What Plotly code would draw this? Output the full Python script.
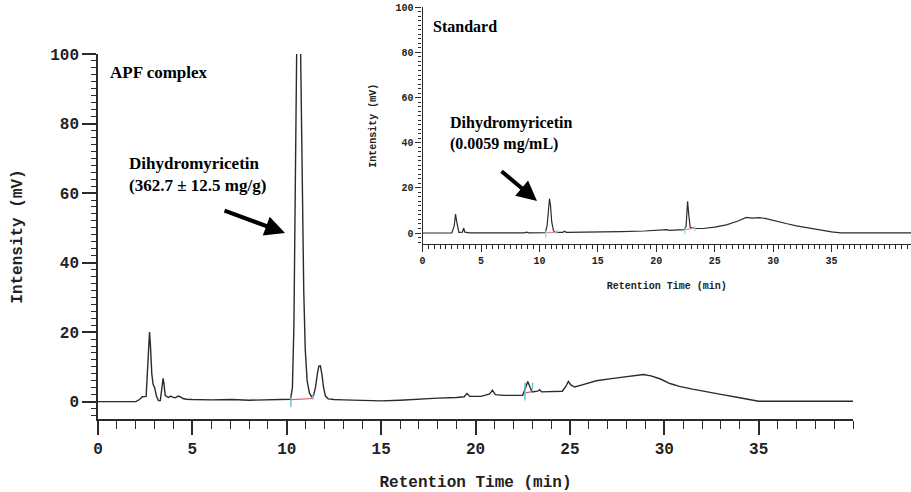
import plotly.graph_objects as go

# ---------------- data ----------------
# Main chromatogram: APF complex
apf_time = [0, 1.0, 2.0, 2.2, 2.35, 2.55, 2.62, 2.68, 2.73, 2.78, 2.85, 2.92, 3.0, 3.1, 3.2, 3.3,
            3.38, 3.45, 3.5, 3.56, 3.65, 3.75, 3.85, 3.95, 4.1, 4.25, 4.35, 4.5, 4.7, 5.0, 6.0,
            6.9, 7.0, 7.1, 8.0, 9.0, 10.0, 10.2, 10.3, 10.38, 10.45, 10.5, 10.55, 10.6, 10.65,
            10.7, 10.75, 10.82, 10.9, 10.98, 11.08, 11.2, 11.32, 11.42, 11.52, 11.62, 11.7,
            11.78, 11.86, 11.95, 12.05, 12.2, 12.5, 13.0, 14.0, 15.0, 16.0, 17.0, 18.0, 19.0,
            19.4, 19.55, 19.7, 20.3, 20.75, 20.9, 21.05, 21.5, 22.0, 22.5, 22.65, 22.77, 22.9,
            23.0, 23.3, 23.4, 23.5, 24.0, 24.6, 24.8, 24.92, 25.05, 25.25, 25.7, 26.4, 27.3,
            28.2, 28.9, 29.3, 29.8, 30.3, 30.8, 31.5, 32.3, 33.0, 34.0, 34.8, 35.0, 40.0]
apf_signal = [0, 0, 0, 0.6, 1.4, 1.5, 8, 17, 20, 16, 8, 5, 4, 1.5, 0.3, 0.3,
              3, 6.7, 5, 1.8, 1.4, 1.2, 1.6, 1.3, 1.1, 1.6, 1.4, 0.9, 0.7, 0.6, 0.5,
              0.6, 0.8, 0.6, 0.4, 0.5, 0.5, 0.7, 4, 22, 60, 95, 125, 140, 135,
              115, 92, 60, 32, 15, 6, 2.5, 1.4, 1.8, 4, 8, 10.2,
              10.3, 8, 4, 1.6, 0.8, 0.6, 0.5, 0.4, 0.2, 0.4, 0.8, 1.0, 1.2,
              1.4, 2.3, 1.5, 1.5, 2.2, 3.3, 2.0, 1.8, 1.8, 1.8, 4, 5.8, 4.0,
              2.8, 3.0, 3.4, 2.8, 2.8, 3.0, 4.5, 5.8, 4.8, 4.2, 4.9, 6.0, 6.7,
              7.4, 7.8, 7.4, 6.5, 5.2, 4.4, 3.6, 2.7, 2.1, 1.1, 0.2, 0.1, 0.1]

# Inset chromatogram: Standard
std_time = [0, 2.5, 2.7, 2.82, 2.92, 3.02, 3.1, 3.4, 3.52, 3.62, 4.0, 8.7, 8.9, 9.1, 10.5,
            10.65, 10.78, 10.86, 10.95, 11.05, 11.2, 11.35, 12.0, 12.15, 12.3, 15.0, 17.0,
            19.0, 20.5, 20.9, 21.1, 22.4, 22.55, 22.68, 22.78, 22.9, 23.3, 24.0, 25.0, 26.0,
            27.0, 27.7, 28.2, 28.8, 29.3, 29.8, 30.5, 31.2, 32.0, 33.0, 34.0, 35.0, 35.8, 41.8]
std_signal = [0, 0, 3, 8.4, 5, 1, 0.3, 0.4, 2.2, 0.4, 0.1, 0.1, 0.4, 0.1, 0.2,
              3, 12, 15.2, 12, 5, 1, 0.3, 0.3, 0.8, 0.3, 0.3, 0.6,
              0.9, 1.2, 1.5, 1.2, 1.5, 3, 14, 8, 2.5, 2.0, 2.0, 2.6, 3.6,
              5.3, 6.9, 6.6, 6.8, 6.5, 5.8, 4.9, 4.1, 3.2, 2.2, 1.3, 0.5, 0.1, 0.1]

# integration markers (cyan ticks) and baselines (red)
apf_mark_t = [10.22, 10.22, None, 11.39, 11.39, None, 22.62, 22.62, None, 23.02, 23.02]
apf_mark_v = [-1.5, 1.3, None, 0.6, 2.0, None, 0.3, 5.4, None, 3.6, 5.4]
apf_base_t = [10.25, 11.37, None, 22.65, 23.0]
apf_base_v = [0.6, 0.9, None, 2.5, 2.9]
std_mark_t = [10.55, 10.55, None, 11.5, 11.5, None, 22.45, 22.45, None, 23.3, 23.3]
std_mark_v = [-2, 1, None, -0.5, 1.5, None, -0.5, 2.5, None, 1, 3]
std_base_t = [10.6, 11.45, None, 22.5, 23.3]
std_base_v = [0.2, 0.3, None, 1.5, 2.3]

main_yticks = [0, 20, 40, 60, 80, 100]
x_ticks = [0, 5, 10, 15, 20, 25, 30, 35]

W, H = 911, 492


def px(xp):
    return xp / W


def py(yp):
    return 1 - yp / H


LINE = "#2b2b2b"
MONO = "Liberation Mono"
SERIF = "Liberation Serif"

fig = go.Figure()
fig.add_trace(go.Scatter(x=apf_time, y=apf_signal, mode="lines", line=dict(color=LINE, width=1.4),
                         xaxis="x", yaxis="y", showlegend=False, cliponaxis=True))
fig.add_trace(go.Scatter(x=apf_base_t, y=apf_base_v, mode="lines", line=dict(color="#e05a5a", width=1.2),
                         xaxis="x", yaxis="y", showlegend=False))
fig.add_trace(go.Scatter(x=apf_mark_t, y=apf_mark_v, mode="lines", line=dict(color="#55c3cf", width=1.4),
                         xaxis="x", yaxis="y", showlegend=False))
fig.add_trace(go.Scatter(x=std_time, y=std_signal, mode="lines", line=dict(color=LINE, width=1.2),
                         xaxis="x2", yaxis="y2", showlegend=False))
fig.add_trace(go.Scatter(x=std_base_t, y=std_base_v, mode="lines", line=dict(color="#f08a8a", width=1.2),
                         xaxis="x2", yaxis="y2", showlegend=False))
fig.add_trace(go.Scatter(x=std_mark_t, y=std_mark_v, mode="lines", line=dict(color="#8fd6dd", width=1.2),
                         xaxis="x2", yaxis="y2", showlegend=False))

axis_common = dict(showgrid=False, zeroline=False, showline=True, linecolor=LINE,
                   ticks="outside", tickcolor=LINE, automargin=False)

fig.update_layout(
    width=W, height=H,
    margin=dict(l=0, r=0, t=0, b=0, autoexpand=False),
    paper_bgcolor="white", plot_bgcolor="white",
    xaxis=dict(**axis_common, domain=[px(98), px(853)], range=[0, 40], anchor="y",
               tickvals=x_ticks, ticklen=14, tickwidth=1.5, linewidth=1.6,
               tickfont=dict(family=MONO, size=16, color="#222", weight="bold"),
               minor=dict(dtick=1, ticklen=8, tickcolor=LINE, ticks="outside", tickwidth=1.2),
               title=dict(text="Retention Time (min)", standoff=19,
                          font=dict(family=MONO, size=16, color="#222", weight="bold"))),
    yaxis=dict(**axis_common, domain=[py(419), py(54)], range=[-5, 100], anchor="x",
               tickvals=main_yticks, ticklen=14, tickwidth=1.5, linewidth=1.6,
               tickfont=dict(family=MONO, size=16, color="#222", weight="bold"),
               minor=dict(dtick=2, ticklen=5, tickcolor=LINE, ticks="outside", tickwidth=1),
               title=dict(text="Intensity (mV)", standoff=24,
                          font=dict(family=MONO, size=16, color="#222", weight="bold"))),
    xaxis2=dict(**axis_common, domain=[px(422.6), 1.0], range=[0, 41.8], anchor="y2",
                tickvals=x_ticks, ticklen=7, tickwidth=1.2, linewidth=1.3,
                tickfont=dict(family=MONO, size=10, color="#222", weight="bold"),
                minor=dict(dtick=0.5, ticklen=4, tickcolor=LINE, ticks="outside", tickwidth=1),
                title=dict(text="Retention Time (min)", standoff=15,
                           font=dict(family=MONO, size=10, color="#222", weight="bold"))),
    yaxis2=dict(**axis_common, domain=[py(244.3), py(7.3)], range=[-5, 100], anchor="x2",
                tickvals=main_yticks, ticklen=6, tickwidth=1.2, linewidth=1.3,
                tickfont=dict(family=MONO, size=10, color="#222", weight="bold"),
                minor=dict(dtick=2, ticklen=3, tickcolor=LINE, ticks="outside", tickwidth=1),
                title=dict(text="Intensity (mV)", standoff=16,
                           font=dict(family=MONO, size=10, color="#222", weight="bold"))),
)

annos = [
    dict(text="<b>APF complex</b>", x=px(108), y=py(72), xanchor="left", yanchor="middle",
         font=dict(family=SERIF, size=17, color="black")),
    dict(text="<b>Dihydromyricetin<br>(362.7 ± 12.5 mg/g)</b>", x=px(127), y=py(174), xanchor="left",
         yanchor="middle", align="left", font=dict(family=SERIF, size=17, color="black")),
    dict(text="<b>Standard</b>", x=px(431), y=py(26), xanchor="left", yanchor="middle",
         font=dict(family=SERIF, size=16, color="black")),
    dict(text="<b>Dihydromyricetin<br>(0.0059 mg/mL)</b>", x=px(448), y=py(133.5), xanchor="left",
         yanchor="middle", align="left", font=dict(family=SERIF, size=16, color="black")),
    dict(text="", x=px(285), y=py(233), ax=-62, ay=-23, showarrow=True, arrowhead=2,
         arrowsize=1, arrowwidth=4, arrowcolor="black"),
    dict(text="", x=px(537), y=py(201), ax=-37, ay=-31, showarrow=True, arrowhead=2,
         arrowsize=1, arrowwidth=4, arrowcolor="black"),
]
for a in annos:
    a.setdefault("showarrow", False)
    a["xref"] = "paper"
    a["yref"] = "paper"
    fig.add_annotation(**a)

fig.write_html("out.html", config={"displayModeBar": False},
               post_script="document.body.style.margin='0';")
